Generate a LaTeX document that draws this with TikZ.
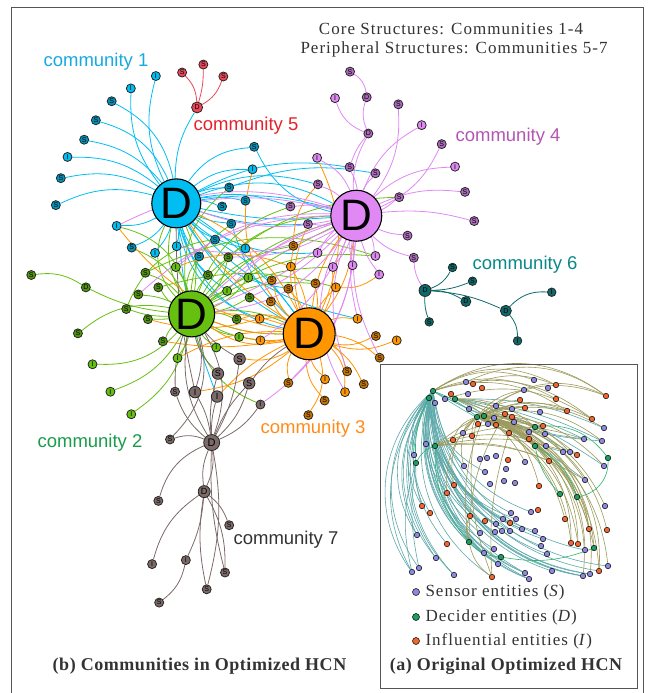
\documentclass[tikz,border=0pt]{standalone}
\usepackage{fontspec}
\setmainfont{Liberation Serif}
\setsansfont{Liberation Sans}
\newfontfamily\spacedserif[LetterSpace=6]{Liberation Serif}
\newfontfamily\capserif[LetterSpace=3]{Liberation Serif}
\usetikzlibrary{backgrounds}
\definecolor{cone}{HTML}{00BEF2}
\definecolor{ctwo}{HTML}{66C010}
\definecolor{cthree}{HTML}{FF9500}
\definecolor{cfour}{HTML}{E088F4}
\definecolor{cfive}{HTML}{EA4858}
\definecolor{csix}{HTML}{0E6A6A}
\definecolor{cseven}{HTML}{7B6A68}
\definecolor{tone}{HTML}{17A9E1}
\definecolor{ttwo}{HTML}{1A9C4C}
\definecolor{tthree}{HTML}{FF8C1A}
\definecolor{tfour}{HTML}{B455B4}
\definecolor{tfive}{HTML}{E62129}
\definecolor{tsix}{HTML}{0A8888}
\definecolor{ctext}{HTML}{333333}
\definecolor{cframe}{HTML}{555555}
\definecolor{psens}{HTML}{8E88DE}
\definecolor{pdec}{HTML}{1E9E60}
\definecolor{pinf}{HTML}{F26430}
\definecolor{eteal}{HTML}{5DA8AA}
\definecolor{eolive}{HTML}{9C9A5C}
\definecolor{egreen}{HTML}{2AB572}
\tikzset{
  hub/.style={circle, draw=black, line width=1.1pt, fill=#1, minimum size=50pt, inner sep=0pt, font=\sffamily\fontsize{44}{44}\selectfont},
  ent/.style={circle, draw=black!85, line width=0.8pt, minimum size=9pt, inner sep=0pt, font=\sffamily\fontsize{7}{7}\selectfont},
  sent/.style={ent, fill=#1!78!black},
  ient/.style={ent, fill=#1},
  link/.style={draw=#1, line width=0.8pt},
  clabel/.style={font=\sffamily\fontsize{18.5}{18.5}\selectfont, text=#1},
  heading/.style={font=\spacedserif\fontsize{17}{17}\selectfont, text=ctext},
  subcap/.style={font=\capserif\bfseries\fontsize{18}{18}\selectfont, text=ctext},
  pdot/.style={circle, draw=black, line width=0.5pt, minimum size=5.5pt, inner sep=0pt, fill=#1},
  plink/.style={draw=#1, line width=0.6pt},
  legtext/.style={font=\spacedserif\fontsize{17}{17}\selectfont, text=ctext, anchor=west},
}
\begin{document}
\begin{tikzpicture}[x=1pt, y=-1pt]
  \useasboundingbox (0,0) rectangle (653,693);
  \draw[cframe, line width=1pt] (11.5,7.5) rectangle (643.5,705);
  \draw[cframe, line width=1pt] (380.5,364.5) rectangle (637.5,688);
  % titles
  \node[heading] (core) at (451,29) {Core Structures: Communities 1-4};
  \node[heading] (peri) at (454,49) {Peripheral Structures: Communities 5-7};
  \node[subcap] (capb) at (199.5,666) {(b) Communities in Optimized HCN};
  \node[subcap] (capa) at (506,666) {(a) Original Optimized HCN};
  % community names
  \node[clabel=tone] (lab1) at (96,62) {community 1};
  \node[clabel=ttwo] (lab2) at (90,443) {community 2};
  \node[clabel=tthree] (lab3) at (313,429) {community 3};
  \node[clabel=tfour] (lab4) at (508,137) {community 4};
  \node[clabel=tfive] (lab5) at (246,126) {community 5};
  \node[clabel=tsix] (lab6) at (525,265) {community 6};
  \node[clabel=ctext] (lab7) at (286,540) {community 7};

  % (b) communities, laid out in the units of the measured layout
  \begin{scope}[x=0.4167pt, y=-0.4421pt]
    \node[hub=cone, minimum size=49pt] (D1) at (423,460) {D};
    \node[hub=ctwo, minimum size=46pt] (D2) at (460,710) {D};
    \node[hub=cthree, minimum size=52pt] (D3) at (742,755) {D};
    \node[hub=cfour, minimum size=51pt] (D4) at (855,488) {D};
    % community 1
    \foreach \n/\px/\py in {a3/268/229, a4/230/272, a5/202/316, a7/146/403, a8/134/464, a10/316/560, a13/478/580, a14/516/542, a16/555/506, a17/533/467, a18/589/454, a19/550/424, a21/610/332}
      \node[sent=cone] (\n) at (\px,\py) {S};
    \foreach \n/\px/\py in {a1/374/172, a2/314/200, a6/162/355, a9/280/511, a11/372/572, a12/424/557, a15/589/562, a20/606/383}
      \node[ient=cone] (\n) at (\px,\py) {I};
    % community 2
    \foreach \n/\px/\py in {g1/75/622, g3/303/699, g4/187/754, g8/355/722, g9/332/666, g10/349/617, g11/380/650, g13/499/622, g14/548/582, g17/599/673, g18/568/722, g22/391/772}
      \node[sent=ctwo] (\n) at (\px,\py) {S};
    \foreach \n/\px/\py in {g5/222/824, g6/265/886, g7/315/937, g12/422/604, g15/596/628, g16/545/658, g19/574/762, g20/519/786, g21/426/810}
      \node[ient=ctwo] (\n) at (\px,\py) {I};
    \node[sent=ctwo] (g2) at (206,650) {D};
    % community 3
    \foreach \n/\px/\py in {o1/704/556, o3/652/634, o4/692/653, o5/650/682, o6/757/641, o11/902/760, o13/911/809, o14/833/840, o15/873/869, o18/692/866, o19/779/906, o20/740/939}
      \node[sent=cthree] (\n) at (\px,\py) {S};
    \foreach \n/\px/\py in {o2/698/603, o7/806/650, o8/623/721, o9/625/770, o10/858/721, o12/952/770, o16/780/858, o17/828/887}
      \node[ient=cthree] (\n) at (\px,\py) {I};
    % community 4
    \foreach \n/\px/\py in {v1/840/162, v4/956/236, v7/1060/326, v9/1116/434, v10/1138/500, v11/978/533, v12/993/583, v18/739/507, v19/697/467, v20/763/417, v22/839/378, v23/901/392, v24/958/446}
      \node[sent=cfour] (\n) at (\px,\py) {S};
    \foreach \n/\px/\py in {v2/804/222, v6/1012/283, v8/1092/377, v13/910/621, v14/901/579, v15/846/600, v16/799/604, v17/762/572, v21/761/357}
      \node[ient=cfour] (\n) at (\px,\py) {I};
    \node[sent=cfour] (v3) at (880,220) {D};
    \node[sent=cfour] (v5) at (884,302) {D};
    % community 5
    \node[ient=cfive, minimum size=11pt] (r0) at (473,243) {D};
    \foreach \n/\px/\py in {r1/437/164, r2/488/146, r3/536/173}
      \node[ient=cfive] (\n) at (\px,\py) {S};
    % community 6
    \node[ient=csix, minimum size=12pt] (t1) at (1020,657) {D};
    \node[ient=csix, minimum size=10pt] (t5) at (1118,682) {D};
    \node[ient=csix, minimum size=11pt] (t6) at (1214,703) {D};
    \foreach \n/\px/\py/\l in {t2/1086/605/S, t3/1134/636/S, t4/1030/728/S, t7/1324/661/I, t8/1242/771/I}
      \node[ient=csix, minimum size=8.5pt] (\n) at (\px,\py) {\l};
    % community 7
    \node[ient=cseven, minimum size=16pt, font=\sffamily\fontsize{11}{11}\selectfont] (K1) at (508,1001) {D};
    \node[ient=cseven, minimum size=12pt, font=\sffamily\fontsize{9}{9}\selectfont] (K2) at (490,1112) {D};
    \foreach \n/\px/\py/\l in {k1/575/812/S, k2/523/845/S, k3/598/867/S, k5/468/887/I, k6/521/897/I}
      \node[ient=cseven, minimum size=11.5pt, font=\sffamily\fontsize{9}{9}\selectfont] (\n) at (\px,\py) {\l};
    \foreach \n/\px/\py/\l in {k4/420/886/S, k7/625/915/I, k8/408/994/S, k9/380/1133/S, k10/550/1188/S, k11/365/1276/I, k12/446/1267/I, k13/540/1295/S, k14/496/1333/S, k15/382/1363/S}
      \node[ient=cseven] (\n) at (\px,\py) {\l};

    \begin{scope}[on background layer]
      % community 1
      \foreach \t/\b in {a1/20, a2/20, a3/-25, a4/-25, a5/-20, a6/-20, a7/-20, a8/-20, r0/15, a9/15, a10/15, a11/10, a12/8, a13/-10, a14/-10, a15/-15, a16/-10, a17/10, a18/10, a19/10, a20/20, a21/25, D4/12, D4/-8, D4/24, D3/-15, D3/-32, D3/10, v19/15, v18/-10, v20/20, v17/-20, v22/18, o4/-25, o8/-30, o10/-18, g13/-15, g16/-20, k6/-8}
        \draw[link=cone] (D1) to[bend left=\b] (\t);
      \foreach \s/\t/\b in {a21/D4/-25, a16/D3/-15, a14/D3/10, a19/v23/15}
        \draw[link=cone] (\s) to[bend left=\b] (\t);
      % community 2
      \draw[link=ctwo] (g1) to[bend left=20] (g2);
      \foreach \s/\b in {g2/-10, g3/-10, g4/25, g5/-25, g6/-20, g7/-20, g8/-5, g9/10, g10/15, g11/-10, g12/10, g13/-10, g14/15, g15/15, g16/-10, g17/10, g18/-10, g19/10, g20/10, g21/-10, g22/10}
        \draw[link=ctwo] (\s) to[bend left=\b] (D2);
      \foreach \t/\b in {D1/20, D1/-15, D1/35, D4/15, D4/30, D4/5, D3/-10, D3/15, a9/-30, a10/-20, a13/20, a16/25, a19/30, v14/20, v16/15, v19/25, o1/20, o6/15, o9/-10, k7/-25}
        \draw[link=ctwo] (D2) to[bend left=\b] (\t);
      \foreach \s/\t/\b in {g10/v14/22, g11/o7/15, g3/a14/30, g13/v24/20}
        \draw[link=ctwo] (\s) to[bend left=\b] (\t);
      % community 3
      \foreach \t/\b in {o1/15, o2/-10, o3/15, o4/-10, o5/10, o6/-10, o7/10, o8/-15, o9/10, o10/15, o11/-20, o12/-20, o13/15, o14/20, o15/15, o16/-15, o17/25, o18/-20, o19/-20, o20/25, D1/12, D1/-18, D2/10, D2/-10, D2/25, D4/15, D4/-15, a20/30, v21/-25, a9/20, g21/-15, g22/10, k5/15, k6/-10, k1/20, v18/20, v16/-15, g19/10, g18/-20}
        \draw[link=cthree] (D3) to[bend left=\b] (\t);
      \foreach \s/\t/\b in {o1/v20/20, o2/g12/-20, o8/g8/15, o7/v13/-20}
        \draw[link=cthree] (\s) to[bend left=\b] (\t);
      % community 4
      \foreach \s/\t/\b in {v1/v3/25, v3/v5/-20, v2/v5/-25, v5/v22/-10, v12/t1/-15}
        \draw[link=cfour] (\s) to[bend left=\b] (\t);
      \foreach \s/\b in {v5/-15, v4/20, v6/-20, v7/20, v8/-20, v9/-15, v10/-10, v11/10, v12/15, v13/10, v14/-10, v15/10, v16/-10, v17/10, v18/-10, v19/10, v20/10, v21/20, v22/10, v23/-10, v24/10}
        \draw[link=cfour] (\s) to[bend left=\b] (D4);
      \foreach \t/\b in {D1/15, D1/-10, D2/10, D2/-12, D2/25, g12/-20, g14/15, g16/-15, g17/10, g9/-20, a9/-22, a12/18, o9/15, o18/20, k7/25, o14/-20, o17/-30, o13/-15, o10/-10}
        \draw[link=cfour] (D4) to[bend left=\b] (\t);
      % community 5
      \foreach \t/\b in {r1/-20, r2/-8, r3/-20}
        \draw[link=cfive] (r0) to[bend left=\b] (\t);
      % community 6
      \foreach \s/\t/\b in {t1/t2/-20, t1/t3/-10, t1/t4/-10, t1/t5/15, t1/t6/10, t6/t7/25, t6/t8/20}
        \draw[link=csix] (\s) to[bend left=\b] (\t);
      % community 7
      \foreach \t/\b in {k1/-10, k2/10, k3/-15, k3/10, k4/15, k5/-10, k6/8, k7/-15, k8/-20, K2/15, K2/-15, k9/-25, k13/-8, k14/12}
        \draw[link=cseven] (K1) to[bend left=\b] (\t);
      \foreach \t/\b in {k10/15, k11/-20, k12/10, k14/-10, k13/15}
        \draw[link=cseven] (K2) to[bend left=\b] (\t);
      \foreach \s/\t/\b in {k12/k15/20, D2/K1/25, D2/K1/-20, k4/D2/10, k5/D2/-15, k2/D2/15, k8/D2/-30, k1/D2/10, k3/D3/10, D1/k5/-6}
        \draw[link=cseven] (\s) to[bend left=\b] (\t);
    \end{scope}
  \end{scope}

  % (a) original network
  \foreach \px/\py [count=\i] in {433/391, 429/398, 455/399, 477/417, 484/416, 535/427, 435/446, 535/446, 416/463, 608/458, 560/494, 577/497, 469/542, 501/557, 594/548}
    \node[pdot=pdec] (pd\i) at (\px,\py) {};
  \foreach \px/\py [count=\i] in {466/382, 534/380, 548/388, 524/390, 468/394, 445/399, 435/403, 469/409, 496/406, 512/409, 540/412, 494/418, 488/424, 514/422, 604/428, 529/432, 545/434, 463/433, 584/439, 602/441, 426/444, 546/446, 563/452, 570/452, 414/455, 480/459, 487/458, 496/456, 525/462, 604/466, 464/466, 506/469, 485/472, 585/480, 504/481, 515/483, 490/484, 605/506, 531/512, 511/513, 496/524, 503/519, 516/519, 522/529, 535/531, 480/533, 495/532, 502/531, 510/531, 543/539, 541/546, 547/554, 417/535, 436/558, 484/553, 494/549, 498/564, 525/573, 529/579, 552/571, 585/550, 583/576, 590/574, 608/566, 412/572, 419/568, 454/575}
    \node[pdot=psens] (ps\i) at (\px,\py) {};
  \foreach \px/\py [count=\i] in {473/384, 482/388, 556/385, 451/394, 606/396, 520/400, 556/399, 525/408, 567/411, 505/414, 512/417, 592/419, 478/424, 496/425, 543/426, 509/433, 453/440, 472/436, 529/439, 577/455, 508/460, 549/461, 454/485, 447/493, 539/486, 422/506, 538/510, 430/513, 470/516, 485/521, 510/523, 565/519, 589/529, 607/530, 447/544, 571/543, 578/544, 599/571, 492/577}
    \node[pdot=pinf] (pi\i) at (\px,\py) {};
  \begin{scope}[on background layer]
    \foreach \t/\b in {ps53/-38, ps65/-42, ps66/-40, ps54/-38, ps67/-38, pi35/-34, ps57/-38, ps58/-40, ps59/-42, ps62/-42, ps63/-42, ps60/-38, ps55/-34, ps46/-30, ps41/-32, ps44/-34, pi39/-38, ps52/-34, ps51/-32, ps64/-38, ps61/-34, pi26/-34, pi28/-30, ps25/-26, ps21/-22, ps31/-22, pi23/-26, ps40/-30, ps39/-30, pi29/-30, ps19/-10, ps20/-12, ps23/-8}
      \draw[plink=eteal] (pd1) to[bend left=\b] (\t);
    \foreach \t/\b in {ps53/-30, ps65/-34, ps54/-32, ps67/-34, ps57/-36, ps58/-36, ps59/-38, ps62/-38, ps47/-30, ps49/-32, ps45/-34, pi24/-26, ps33/-24, pi38/-36, ps50/-32, ps56/-34, pi31/-30}
      \draw[plink=eteal] (pd2) to[bend left=\b] (\t);
    \foreach \s/\t/\b in {pd7/ps55/-20, pd7/ps57/-25, pd7/ps58/-25, pd7/ps59/-28, pd7/ps62/-30, pd7/ps63/-30, pd7/ps44/-20, pd7/ps43/-22, pd9/ps65/-15, pd9/ps66/-10, pd9/pi26/-10, pd3/ps15/12, pd3/ps19/8, pd3/ps20/10, pd3/ps24/5, pd3/ps30/10, pd3/ps34/5}
      \draw[plink=eteal] (\s) to[bend left=\b] (\t);
    \foreach \t/\b in {pi5/30, pi12/25, ps15/25, pi20/20, pi22/20, pi33/30, pi34/35, pi36/30, pi37/30, pi38/35, pd12/25, pd15/30, ps38/30, ps64/35, ps62/40, pi32/25, ps30/25, ps34/25, ps18/-20, pi17/-25, pi18/-15, ps31/-30, pi23/-30, pi24/-25, ps13/10, pi13/10, pi14/10, ps12/8, pi6/15, ps4/20, pi8/15, ps10/15}
      \draw[plink=eolive] (pd4) to[bend left=\b] (\t);
    \foreach \t/\b in {pi5/35, pi9/25, ps20/25, pi33/35, pi38/40, pd15/35, ps61/35, pi36/35, pi37/35, ps63/40, ps22/15, pi19/10, pd8/10, ps29/12, pd6/15, ps17/15, pi15/18, pi22/20, ps23/22, ps24/22}
      \draw[plink=eolive] (pd5) to[bend left=\b] (\t);
    \foreach \s/\t/\b in {pd1/pi5/35, pd1/pi3/30, pd1/ps2/25, pd1/pi7/25, pd1/pi9/25, pd1/pi12/28, pd7/ps19/20, pd7/pi20/15, pd7/pi22/15, pd7/ps34/18, pd7/pi9/25, pd7/pi15/20, pd7/pi19/15, pd13/pi39/-20, pd13/pi29/20, pd13/pd5/15, pd13/pi10/15, pi39/pd4/15, pi39/pi16/10, pd3/pd5/10, pd3/pi11/15, pd3/pd6/20, pd3/pd8/20, pd3/pi25/30, ps1/pi5/30, pi1/pi3/20, ps6/pi12/25}
      \draw[plink=eolive] (\s) to[bend left=\b] (\t);
    \foreach \s/\t/\b in {pd6/pd10/30, pd10/pd12/40, pd8/pd11/-15, pd2/pd9/-15, pd9/pd7/20, pd13/pd14/-20, pd14/pd15/-15, pd1/pd4/10, pd7/pd13/-20, pd8/pd12/20}
      \draw[plink=egreen] (\s) to[bend left=\b] (\t);
  \end{scope}
  % legend
  \node[pdot=psens, minimum size=7pt] (lsens) at (416,592) {};
  \node[pdot=pdec, minimum size=7pt] (ldec) at (416,617) {};
  \node[pdot=pinf, minimum size=7pt] (linf) at (416,641) {};
  \node[legtext] (tsens) at (422,592) {Sensor entities (\textit{S})};
  \node[legtext] (tdec) at (422,617) {Decider entities (\textit{D})};
  \node[legtext] (tinf) at (422,641) {Influential entities (\textit{I})};
\end{tikzpicture}
\end{document}
